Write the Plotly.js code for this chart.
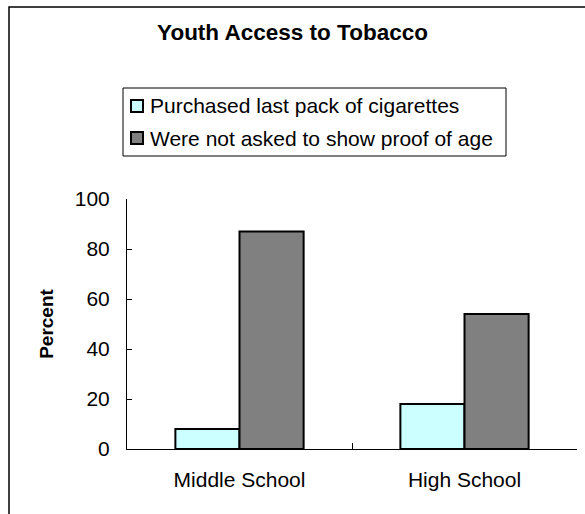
<!DOCTYPE html>
<html>
<head>
<meta charset="utf-8">
<script src="https://cdn.plot.ly/plotly-3.0.1.min.js"></script>
<style>html,body{margin:0;padding:0;background:#fff;}#chart{width:585px;height:514px;}</style>
</head>
<body>
<div id="chart"></div>
<script>
const categories = ["Middle School", "High School"];
const seriesNames = ["Purchased last pack of cigarettes", "Were not asked to show proof of age"];
const seriesColors = ["#CCFFFF", "#808080"];
const purchased = [8, 18];
const notAsked = [87, 54];
const yTicks = [0, 20, 40, 60, 80, 100];

const font = "Liberation Sans, Arial, sans-serif";
const traces = [
  {type: "bar", name: seriesNames[0], x: categories, y: purchased,
   marker: {color: seriesColors[0], line: {color: "#000", width: 2}}},
  {type: "bar", name: seriesNames[1], x: categories, y: notAsked,
   marker: {color: seriesColors[1], line: {color: "#000", width: 2}}}
];

// plot area in pixels: x 127..577, y 199..449
const L = 127, W = 450, B = 449, H = 250;
const px = v => (v - L) / W;
const py = v => (B - v) / H;

const shapes = [
  {type: "rect", xref: "paper", yref: "paper", x0: px(9), x1: px(700), y0: py(600), y1: py(7),
   line: {color: "#000", width: 1.5}, fillcolor: "rgba(0,0,0,0)"},
  {type: "rect", xref: "paper", yref: "paper", x0: px(123), x1: px(506), y0: py(156), y1: py(88),
   line: {color: "#000", width: 1}, fillcolor: "#fff"}
];
const annotations = [];
const rowY = [106, 138];
seriesNames.forEach((name, i) => {
  shapes.push({type: "rect", xref: "paper", yref: "paper",
    x0: px(131), x1: px(143), y0: py(rowY[i] + 6), y1: py(rowY[i] - 6),
    line: {color: "#000", width: 2}, fillcolor: seriesColors[i]});
  annotations.push({xref: "paper", yref: "paper", x: px(148), y: py(rowY[i]),
    xanchor: "left", yanchor: "middle", showarrow: false, text: name,
    font: {size: 21, family: font, color: "#000"}});
});

const layout = {
  width: 585, height: 514,
  margin: {l: 127, r: 8, t: 199, b: 65},
  paper_bgcolor: "#fff", plot_bgcolor: "#fff",
  font: {family: font, color: "#000", size: 21},
  title: {text: "<b>Youth Access to Tobacco</b>", font: {size: 22.5, family: font}, x: 0.5, xanchor: "center", y: 0.938, yanchor: "middle"},
  barmode: "group", bargap: 0.43, bargroupgap: 0,
  showlegend: false,
  xaxis: {type: "category", showline: true, linecolor: "#000", linewidth: 1,
          ticks: "inside", tickson: "boundaries", ticklen: 6, tickcolor: "#000",
          showgrid: false, zeroline: false, ticklabelstandoff: 12, tickfont: {size: 21}},
  yaxis: {range: [0, 100], tickvals: yTicks, showline: true, linecolor: "#000", linewidth: 1,
          ticks: "inside", ticklen: 5, tickcolor: "#000", showgrid: false, zeroline: false,
          ticklabelstandoff: 12, tickfont: {size: 21},
          title: {text: "<b>Percent</b>", font: {size: 19}, standoff: 16}},
  shapes: shapes,
  annotations: annotations
};
Plotly.newPlot("chart", traces, layout, {displayModeBar: false, staticPlot: true});
</script>
</body>
</html>
